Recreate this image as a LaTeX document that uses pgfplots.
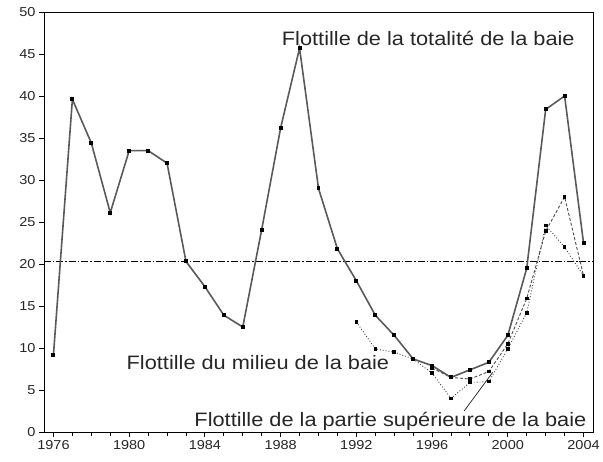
\documentclass[border=0pt]{standalone}
\usepackage{pgfplots}
\pgfplotsset{compat=1.18}
\usepackage{fontspec}
\setmainfont{Liberation Sans}[FakeStretch=1.12]
\begin{document}
\begin{tikzpicture}
\begin{axis}[
  scale only axis, width=549bp, height=420bp,
  xmin=1975.5, xmax=2004.5, ymin=0, ymax=50,
  xtick={1976,1980,...,2004}, minor xtick={1976,...,2004},
  ytick={0,5,...,50},
  tick align=outside, xtick pos=bottom, ytick pos=left,
  major tick length=5bp, minor tick length=4bp,
  tick style={black, line width=0.9pt},
  /pgf/number format/set thousands separator={},
  /pgf/number format/assume math mode=true,
  tick label style={font=\fontsize{13}{15}\selectfont, text=black!85},
  axis line style={black, line width=0.8pt},
  clip=false,
]
% reference line
\addplot[black, line width=0.7pt, dash pattern=on 7pt off 2pt on 1.5pt off 2pt] coordinates {(1975.5,20.3) (2004.5,20.3)};
% middle of the bay (dotted)
\addplot[black!75, line width=0.9pt, dotted, mark=square*, mark size=1.3bp, mark options={solid, black}] coordinates {
(1992,13.1) (1993,9.9) (1994,9.5) (1995,8.7) (1996,7.0) (1997,4.0) (1998,5.9) (1999,6.0) (2000,9.9) (2001,14.2) (2002,24.6) (2003,22.0) (2004,18.6)};
% upper part of the bay (dashed)
\addplot[black!70, line width=0.9pt, densely dashed, mark=square*, mark size=1.3bp, mark options={solid, black}] coordinates {
(1996,7.6) (1997,6.5) (1998,6.3) (1999,7.2) (2000,10.5) (2001,15.9) (2002,23.9) (2003,28.0) (2004,18.6)};
% whole bay
\addplot[black!65, line width=1.6pt, mark=square*, mark size=1.2bp, mark options={black}] coordinates {
(1976,9.2) (1977,39.6) (1978,34.4) (1979,26.1) (1980,33.5) (1981,33.5) (1982,32.0) (1983,20.3)
(1984,17.3) (1985,13.9) (1986,12.5) (1987,24.1) (1988,36.2) (1989,45.7) (1990,29.0) (1991,21.8)
(1992,18.0) (1993,13.9) (1994,11.5) (1995,8.7) (1996,7.9) (1997,6.5) (1998,7.4) (1999,8.3)
(2000,11.5) (2001,19.5) (2002,38.4) (2003,40.0) (2004,22.5)};
\draw[black!80, line width=0.8pt] (axis cs:1997.66,2.4) -- (axis cs:1999.2,7.1);
\node[font=\fontsize{19.5}{22}\selectfont, text=black!85] at (axis cs:1995.8,46.9) {Flottille de la totalité de la baie};
\node[font=\fontsize{19.5}{22}\selectfont, text=black!85] at (axis cs:1986.8,8.3) {Flottille du milieu de la baie};
\node[font=\fontsize{19.5}{22}\selectfont, text=black!85, fill=white, inner sep=1pt] at (axis cs:1993.8,1.25) {Flottille de la partie supérieure de la baie};
\end{axis}
\path (current axis.south west) ++(-44bp,-30bp) coordinate (bbl);
\path (current axis.north east) ++(10bp,12bp) coordinate (bbr);
\pgfresetboundingbox
\useasboundingbox (bbl) rectangle (bbr);
\end{tikzpicture}
\end{document}
